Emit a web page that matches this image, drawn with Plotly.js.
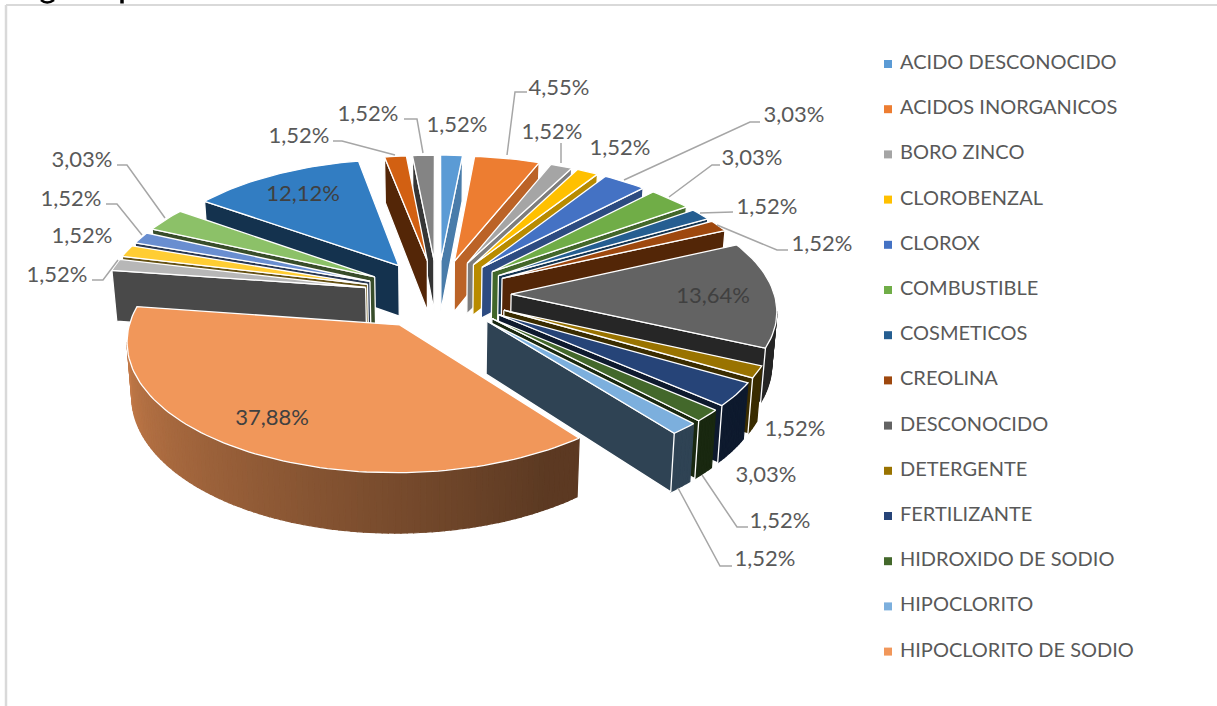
<!DOCTYPE html>
<html>
<head>
<meta charset="utf-8">
<script src="https://cdn.plot.ly/plotly-3.0.1.min.js"></script>
<style>html,body{margin:0;padding:0;background:#fff}#chart{width:1217px;height:706px}</style>
</head>
<body>
<div id="chart"></div>
<script>
// ---- data ----
const categories = ["ACIDO DESCONOCIDO","ACIDOS INORGANICOS","BORO ZINCO","CLOROBENZAL","CLOROX","COMBUSTIBLE","COSMETICOS","CREOLINA","DESCONOCIDO","DETERGENTE","FERTILIZANTE","HIDROXIDO DE SODIO","HIPOCLORITO","HIPOCLORITO DE SODIO"];
const values = [1.52,4.55,1.52,1.52,3.03,3.03,1.52,1.52,13.64,1.52,3.03,1.52,1.52,37.88,1.52,1.52,1.52,3.03,12.12,1.52,1.52];
const colors = ["#5B9BD5","#ED7D31","#A5A5A5","#FFC000","#4472C4","#70AD47","#255E91","#9E480E","#636363","#997300","#264478","#43682B","#7CAFDD","#F1975A","#B7B7B7","#FFCD33","#698ED0","#8CC168","#327DC2","#D26012","#848484"];

// ---- layout of the drawing ----
const G = {cx:437.5, cy:294, A:263, B:124, f:9, e:0.28, D:52, shrink:0.985};
const labelPos = [[457,126],[559,89],[552,133],[620,149],[794,116],[752,159],[767,208],[822,245],[713,297],[795,430],[766,476],[780,522],[765,560],[272,419],[57,276],[82,237],[71,200],[82,161],[303,195],[299,137],[368,115]];
const insideLabels = [8,13,18];
const leaders = [
  [[507,155],[515,92],[527,92]],
  [[561,163],[561,143]],
  [[624,180],[750,122],[760,122]],
  [[669,197],[712,165],[720,165]],
  [[700,213],[733,212]],
  [[717,225],[777,250],[788,250]],
  [[702,475],[737,527],[748,527]],
  [[678,488],[720,566],[732,566]],
  [[118,260],[103,280],[92,280]],
  [[142,235],[117,204],[106,204]],
  [[165,218],[127,165],[117,165]],
  [[395,155],[342,141],[333,141]],
  [[423,153],[417,119],[404,119]]
];
const legendMarkerX = 888, legendTextX = 900, legendTop = 64, legendStep = 45.2;

// ---- helpers ----
const rad = d => d*Math.PI/180;
function proj(X,Y,Z){
  const s = G.f/(G.f+Y);
  let px = G.A*X*s, py = -G.B*Y*s + G.D*Z*s;
  if(Z) px *= G.shrink;
  return [G.cx+px, G.cy+py];
}
function shade(hex,k){
  const n = parseInt(hex.slice(1),16);
  const c = [(n>>16)&255,(n>>8)&255,n&255].map(v=>Math.round(v*k));
  return `rgb(${c[0]},${c[1]},${c[2]})`;
}
function poly(pts,fill,line,lw){
  return {type:'scatter',mode:'lines',x:pts.map(p=>p[0]).concat(pts[0][0]),y:pts.map(p=>p[1]).concat(pts[0][1]),
    fill:'toself',fillcolor:fill,line:{color:line,width:lw},hoverinfo:'skip',showlegend:false};
}
function visible(nx,ny,X,Y){ return nx*(-X)+ny*(-G.f-Y)>0; }

// ---- slices from the values ----
const total = values.reduce((a,b)=>a+b,0);
let acc = 0;
const slices = values.map((v,i)=>{
  const a0 = acc/total*360; acc += v; const a1 = acc/total*360;
  const m = (a0+a1)/2;
  return {i,a0,a1,m,ox:G.e*Math.sin(rad(m)),oy:G.e*Math.cos(rad(m))};
});
const order = slices.slice().sort((p,q)=>Math.cos(rad(q.m))-Math.cos(rad(p.m)));
const traces = [];
function endShade(a){ // wall on the clockwise side of a slice
  if(a<=20) return 0.8;
  if(a>=90) return 0.38;
  return 0.8-(a-20)/70*0.42;
}
function outerShade(a){ return a<=150?0.38:0.38+(a-150)/128*0.49; }
order.forEach(s=>{
  const col = colors[s.i];
  const apex = [s.ox,s.oy];
  const pt = a=>[s.ox+Math.sin(rad(a)),s.oy+Math.cos(rad(a))];
  // outer wall, small facets so the shading varies smoothly along it
  const nSeg = Math.max(1,Math.ceil((s.a1-s.a0)/1.2));
  for(let j=0;j<nSeg;j++){
    const b0 = s.a0+(s.a1-s.a0)*j/nSeg, b1 = s.a0+(s.a1-s.a0)*(j+1)/nSeg, bm=(b0+b1)/2;
    const pm = pt(bm);
    if(!visible(Math.sin(rad(bm)),Math.cos(rad(bm)),pm[0],pm[1])) continue;
    const p0=pt(b0),p1=pt(b1);
    const c = shade(col,outerShade(bm));
    traces.push(poly([proj(p0[0],p0[1],0),proj(p1[0],p1[1],0),proj(p1[0],p1[1],1),proj(p0[0],p0[1],1)],c,c,1.2));
  }
  // radial walls
  [[s.a0,-1],[s.a1,1]].forEach(([a,side])=>{
    const n = [side*Math.cos(rad(a)),-side*Math.sin(rad(a))];
    const e = pt(a);
    const mx=(apex[0]+e[0])/2,my=(apex[1]+e[1])/2;
    if(visible(n[0],n[1],mx,my)){
      const k = side>0?endShade(a):0.4;
      traces.push(poly([proj(apex[0],apex[1],0),proj(e[0],e[1],0),proj(e[0],e[1],1),proj(apex[0],apex[1],1)],shade(col,k),'#ffffff',1.3));
    }
  });
  // top face
  const top=[proj(apex[0],apex[1],0)];
  const nTop = Math.max(3,Math.ceil((s.a1-s.a0)/1.5));
  for(let j=0;j<=nTop;j++){const q=pt(s.a0+(s.a1-s.a0)*j/nTop);top.push(proj(q[0],q[1],0));}
  traces.push(poly(top,col,'#ffffff',1.3));
});

// leader lines
const lx=[],ly=[];
leaders.forEach(l=>{l.forEach(p=>{lx.push(p[0]);ly.push(p[1]);});lx.push(null);ly.push(null);});
traces.push({type:'scatter',mode:'lines',x:lx,y:ly,line:{color:'#A6A6A6',width:1.5},hoverinfo:'skip',showlegend:false});

// data labels
const fmt = v=>v.toFixed(2).replace('.',',')+'%';
traces.push({type:'scatter',mode:'text',x:labelPos.map(p=>p[0]),y:labelPos.map(p=>p[1]),text:values.map(fmt),
  textposition:'middle center',hoverinfo:'skip',showlegend:false,
  textfont:{family:'Lato, sans-serif',size:22,color:values.map((v,i)=>insideLabels.includes(i)?'#404040':'#595959')}});

// legend
traces.push({type:'scatter',mode:'markers',
  x:categories.map(()=>legendMarkerX),y:categories.map((c,i)=>legendTop+i*legendStep),
  marker:{symbol:'square',size:8,color:categories.map((c,i)=>colors[i])},
  hoverinfo:'skip',showlegend:false});
traces.push({type:'scatter',mode:'text',
  x:categories.map(()=>legendTextX),y:categories.map((c,i)=>legendTop+i*legendStep),
  text:categories,textposition:'middle right',
  textfont:{family:'Lato, sans-serif',size:20,color:'#595959'},
  hoverinfo:'skip',showlegend:false,cliponaxis:false});

const layout = {
  width:1217,height:706,margin:{l:0,r:0,t:0,b:0},
  paper_bgcolor:'#fff',plot_bgcolor:'#fff',showlegend:false,
  xaxis:{range:[0,1217],visible:false,fixedrange:true},
  yaxis:{range:[706,0],visible:false,fixedrange:true},
  shapes:[
    {type:'line',xref:'x',yref:'y',x0:6,y0:5,x1:1217,y1:5,line:{color:'#D9D9D9',width:2}},
    {type:'line',xref:'x',yref:'y',x0:6,y0:5,x1:6,y1:706,line:{color:'#D9D9D9',width:2.5}},
    // the cut-off descenders of the heading above the frame
    {type:'path',xref:'x',yref:'y',path:'M41,0 Q47,5 54,0',line:{color:'#000',width:2.5}},
    {type:'line',xref:'x',yref:'y',x0:122,y0:0,x1:122,y1:3.5,line:{color:'#000',width:3.5}}
  ]
};
Plotly.newPlot('chart',traces,layout,{displayModeBar:false,staticPlot:true});
</script>
</body>
</html>
